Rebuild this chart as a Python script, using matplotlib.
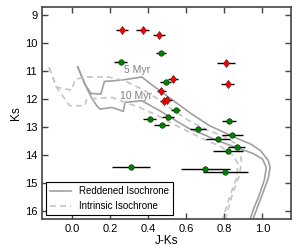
import numpy as np
import matplotlib
matplotlib.use('Agg')
import matplotlib.pyplot as plt

plt.rcParams['font.family'] = ['Liberation Sans', 'DejaVu Sans']

# звезды с диамантами (красные)
red_x = [0.26, 0.37, 0.456, 0.53, 0.468, 0.483, 0.50, 0.81, 0.816]
red_y = [9.51, 9.54, 9.70, 11.27, 11.72, 12.07, 12.05, 10.69, 11.46]
red_xerr = [0.033, 0.035, 0.033, 0.028, 0.025, 0.022, 0.022, 0.048, 0.035]

# зеленые кружки
green_x = [0.253, 0.468, 0.49, 0.544, 0.503, 0.407, 0.47, 0.661, 0.824,
           0.84, 0.765, 0.865, 0.819, 0.70, 0.804, 0.307]
green_y = [10.68, 10.36, 11.38, 12.39, 12.63, 12.71, 12.94, 13.06, 12.77,
           13.28, 13.45, 13.73, 13.85, 14.51, 14.63, 14.45]
green_xerr = [0.035, 0.026, 0.028, 0.024, 0.033, 0.035, 0.04, 0.04, 0.035,
              0.055, 0.063, 0.044, 0.079, 0.127, 0.118, 0.099]

# изохроны (покрасневшие)
red5_x = [0.028, 0.066, 0.098, 0.15, 0.168, 0.26, 0.365, 0.42, 0.48, 0.55,
          0.62, 0.72, 0.80, 0.88, 0.94, 0.99, 1.03, 1.04, 1.03, 1.0, 0.975, 0.95]
red5_y = [10.85, 11.47, 11.80, 11.82, 11.37, 11.32, 11.21, 11.5, 11.8, 12.15,
          12.5, 12.95, 13.2, 13.45, 13.62, 13.85, 14.2, 14.45, 14.85, 15.4, 15.85, 16.3]
red10_x = [0.028, 0.066, 0.10, 0.128, 0.145, 0.207, 0.268, 0.277, 0.365, 0.46,
           0.55, 0.617, 0.70, 0.758, 0.88, 0.95, 1.0, 1.02, 1.01, 0.98, 0.955, 0.935]
red10_y = [10.85, 11.47, 11.94, 12.24, 12.36, 12.30, 12.44, 12.12, 12.06, 12.42,
           12.8, 13.07, 13.3, 13.48, 13.78, 13.95, 14.15, 14.45, 14.9, 15.5, 15.9, 16.3]

# изохроны (собственные)
int5_x = [-0.123, -0.083, -0.004, 0.014, 0.075, 0.19, 0.277, 0.365, 0.45, 0.53,
          0.62, 0.705, 0.80, 0.86, 0.885, 0.89, 0.875, 0.84, 0.805]
int5_y = [10.87, 11.58, 11.68, 11.29, 11.21, 11.21, 11.35, 11.64, 12.0, 12.4,
          12.8, 13.1, 13.35, 13.6, 13.95, 14.3, 14.8, 15.45, 16.3]
int10_x = [-0.123, -0.083, -0.021, -0.013, 0.066, 0.075, 0.207, 0.277, 0.354, 0.45,
           0.53, 0.62, 0.705, 0.78, 0.845, 0.87, 0.865, 0.83, 0.79]
int10_y = [10.87, 11.58, 12.18, 12.24, 12.24, 12.0, 11.94, 12.12, 12.3, 12.6,
           12.89, 13.2, 13.48, 13.7, 14.02, 14.3, 14.8, 15.45, 16.3]

fig = plt.figure(figsize=(3, 2.5), dpi=100)
ax = fig.add_axes([0.14, 0.124, 0.83, 0.848])

ax.plot(red5_x, red5_y, color='#a0a0a0', lw=1.2, label='Reddened Isochrone')
ax.plot(red10_x, red10_y, color='#a0a0a0', lw=1.2)
ax.plot(int5_x, int5_y, color='#c4c4c4', lw=1.2, ls=(0, (3.5, 2.5)), label='Intrinsic Isochrone')
ax.plot(int10_x, int10_y, color='#c4c4c4', lw=1.2, ls=(0, (3.5, 2.5)))

ax.errorbar(green_x, green_y, xerr=green_xerr, fmt='o', color='green', ms=4,
            mec='#003300', mew=0.4, ecolor='black', elinewidth=1, capsize=0, zorder=5)
ax.errorbar(red_x, red_y, xerr=red_xerr, fmt='d', color='red', ms=4.5,
            mec='#550000', mew=0.4, ecolor='black', elinewidth=1, capsize=0, zorder=5)

ax.text(0.27, 10.97, '5 Myr', fontsize=7.5, color='#808080', va='center')
ax.text(0.25, 11.9, '10 Myr', fontsize=7.5, color='#808080', va='center')

ax.set_xlim(-0.16, 1.15)
ax.set_ylim(16.3, 8.7)
ax.set_xticks([0.0, 0.2, 0.4, 0.6, 0.8, 1.0])
ax.set_yticks([9, 10, 11, 12, 13, 14, 15, 16])
ax.tick_params(direction='in', top=True, right=True, length=4, width=1,
               labelsize=8, color='#444444')
for s in ax.spines.values():
    s.set_color('#444444')
    s.set_linewidth(1.2)
ax.set_xlabel('J-Ks', fontsize=8.5, labelpad=1)
ax.set_ylabel('Ks', fontsize=8.5, labelpad=2)

leg = ax.legend(loc='lower left', fontsize=7, fancybox=False, framealpha=1,
                edgecolor='black', handlelength=2.2, borderaxespad=0.4)
leg.get_frame().set_linewidth(0.8)

fig.savefig('out.png', dpi=100)
